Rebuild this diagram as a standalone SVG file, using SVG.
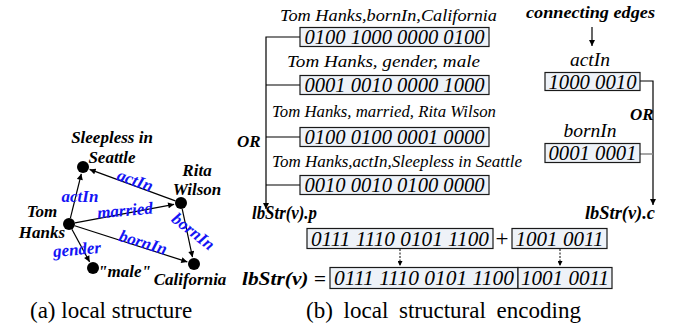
<svg xmlns="http://www.w3.org/2000/svg" width="674" height="327" viewBox="0 0 674 327">
<defs>
<marker id="ah" viewBox="0 0 10 10" refX="10" refY="5" markerWidth="7" markerHeight="6" markerUnits="userSpaceOnUse" orient="auto"><path d="M0,0 L10,5 L0,10 z" fill="#000"/></marker>
<marker id="ahs" viewBox="0 0 10 10" refX="10" refY="5" markerWidth="6" markerHeight="5" markerUnits="userSpaceOnUse" orient="auto"><path d="M0,0 L10,5 L0,10 z" fill="#000"/></marker>
</defs>
<style>
text{font-family:'Liberation Serif','Tinos','Times New Roman','DejaVu Serif',serif}
.t{font-style:italic;fill:#000}
.b{font-style:italic;font-weight:bold;fill:#000}
.bl{font-style:italic;font-weight:bold;fill:#1414f5;font-size:17px}
.cap{font-size:23px;fill:#000}
.box{fill:#eef2f8;stroke:#1a1a1a;stroke-width:1.2}
.bt{font-style:italic;font-size:21px;fill:#000}
.ln{stroke:#000;stroke-width:1.2;fill:none}
.dot{fill:#000}
</style>
<g id="connectors">
<line class="ln" x1="70.4" y1="218.2" x2="81.3" y2="173.8" marker-end="url(#ah)"/>
<line class="ln" x1="175.4" y1="200.9" x2="89.6" y2="169.4" marker-end="url(#ah)"/>
<line class="ln" x1="75" y1="222.9" x2="174.1" y2="204.3" marker-end="url(#ah)"/>
<line class="ln" x1="74.7" y1="225.8" x2="187.3" y2="261.9" marker-end="url(#ah)"/>
<line class="ln" x1="182.2" y1="208.9" x2="192.5" y2="257.2" marker-end="url(#ah)"/>
<line class="ln" x1="71.9" y1="229.3" x2="89.6" y2="261.9" marker-end="url(#ah)"/>
<polyline class="ln" points="300,37 266,37 266,209" marker-end="url(#ah)"/>
<line class="ln" x1="266" y1="85" x2="300" y2="85"/>
<line class="ln" x1="266" y1="137" x2="300" y2="137"/>
<line class="ln" x1="266" y1="185" x2="300" y2="185"/>
<line class="ln" x1="592" y1="27" x2="592" y2="46" marker-end="url(#ah)"/>
<polyline class="ln" points="640,81 653,81 653,205" marker-end="url(#ah)"/>
<line x1="640" y1="154" x2="653" y2="154" stroke="#888" stroke-width="1.5"/>
<line x1="400" y1="249" x2="400" y2="266" stroke="#000" stroke-width="1" stroke-dasharray="2,1.5" marker-end="url(#ahs)"/>
<line x1="560" y1="249" x2="560" y2="266" stroke="#000" stroke-width="1" stroke-dasharray="2,1.5" marker-end="url(#ahs)"/>
</g>
<g id="n-sleepless"><circle class="dot" cx="83" cy="167" r="6"/><text class="b" font-size="17" x="112" y="143" text-anchor="middle">Sleepless in</text><text class="b" font-size="17" x="112" y="163" text-anchor="middle">Seattle</text></g>
<g id="n-rita"><circle class="dot" cx="181" cy="203" r="6"/><text class="b" font-size="17" x="197" y="176" text-anchor="middle">Rita</text><text class="b" font-size="17" x="197" y="195" text-anchor="middle">Wilson</text></g>
<g id="n-tom"><circle class="dot" cx="69" cy="224" r="6"/><text class="b" font-size="17" x="42" y="217" text-anchor="middle">Tom</text><text class="b" font-size="17" x="42" y="238" text-anchor="middle">Hanks</text></g>
<g id="n-male"><circle class="dot" cx="93" cy="268" r="6"/><text class="b" font-size="17" x="98" y="277">"male"</text></g>
<g id="n-california"><circle class="dot" cx="194" cy="264" r="6"/><text class="b" font-size="17" x="190" y="285" text-anchor="middle">California</text></g>
<g id="edge-labels">
<text class="bl" x="80" y="202" text-anchor="middle">actIn</text>
<text class="bl" x="135" y="186" text-anchor="middle" transform="rotate(20 135 181)">actIn</text>
<text class="bl" x="125" y="216" text-anchor="middle" transform="rotate(-5 125 211)">married</text>
<text class="bl" x="143" y="248" text-anchor="middle" transform="rotate(17 143 243)">bornIn</text>
<text class="bl" x="193" y="237" text-anchor="middle" transform="rotate(38 193 232)">bornIn</text>
<text class="bl" x="77" y="255" text-anchor="middle" transform="rotate(-5 77 250)">gender</text>
</g>
<g id="p-encoding">
<text class="t" font-size="17" x="280" y="21" textLength="217" lengthAdjust="spacingAndGlyphs">Tom Hanks,bornIn,California</text>
<g id="box1"><rect class="box" x="300" y="27.5" width="189" height="19"/><text class="bt" x="394.5" y="44" text-anchor="middle" textLength="180" lengthAdjust="spacingAndGlyphs">0100 1000 0000 0100</text></g>
<text class="t" font-size="17" x="287" y="67" textLength="193" lengthAdjust="spacingAndGlyphs">Tom Hanks, gender, male</text>
<g id="box2"><rect class="box" x="300" y="75.5" width="189" height="19"/><text class="bt" x="394.5" y="92" text-anchor="middle" textLength="180" lengthAdjust="spacingAndGlyphs">0001 0010 0000 1000</text></g>
<text class="t" font-size="17" x="272" y="117" textLength="224" lengthAdjust="spacingAndGlyphs">Tom Hanks, married, Rita Wilson</text>
<g id="box3"><rect class="box" x="300" y="127.5" width="189" height="19"/><text class="bt" x="394.5" y="144" text-anchor="middle" textLength="180" lengthAdjust="spacingAndGlyphs">0100 0100 0001 0000</text></g>
<text class="t" font-size="17" x="272" y="167" textLength="250" lengthAdjust="spacingAndGlyphs">Tom Hanks,actIn,Sleepless in Seattle</text>
<g id="box4"><rect class="box" x="300" y="175.5" width="189" height="19"/><text class="bt" x="394.5" y="192" text-anchor="middle" textLength="180" lengthAdjust="spacingAndGlyphs">0010 0010 0100 0000</text></g>
<text class="b" font-size="17" x="237" y="147">OR</text>
<text class="b" font-size="18" x="252" y="219" textLength="65" lengthAdjust="spacingAndGlyphs">lbStr(v).p</text>
</g>
<g id="c-encoding">
<text class="b" font-size="17" x="526" y="18" textLength="129" lengthAdjust="spacingAndGlyphs">connecting edges</text>
<text class="t" font-size="19.5" x="590" y="66" text-anchor="middle">actIn</text>
<g id="box5"><rect class="box" x="545" y="72.5" width="95" height="18"/><text class="bt" x="592.5" y="88.5" text-anchor="middle" textLength="88" lengthAdjust="spacingAndGlyphs">1000 0010</text></g>
<text class="b" font-size="17" x="630" y="120">OR</text>
<text class="t" font-size="19.5" x="590" y="137" text-anchor="middle">bornIn</text>
<g id="box6"><rect class="box" x="545" y="143.5" width="95" height="19"/><text class="bt" x="592.5" y="160" text-anchor="middle" textLength="88" lengthAdjust="spacingAndGlyphs">0001 0001</text></g>
<text class="b" font-size="18" x="585" y="219" textLength="70" lengthAdjust="spacingAndGlyphs">lbStr(v).c</text>
</g>
<g id="result">
<g id="box7"><rect class="box" x="307" y="228.5" width="186" height="20"/><text class="bt" x="400" y="245.5" text-anchor="middle" textLength="178" lengthAdjust="spacingAndGlyphs">0111 1110 0101 1100</text></g>
<text class="cap" x="502" y="246" text-anchor="middle">+</text>
<g id="box8"><rect class="box" x="512" y="228.5" width="95" height="20"/><text class="bt" x="559.5" y="245.5" text-anchor="middle" textLength="88" lengthAdjust="spacingAndGlyphs">1001 0011</text></g>
<text class="b" font-size="19" x="242" y="285" textLength="84" lengthAdjust="spacingAndGlyphs">lbStr(v) =</text>
<g id="box9"><rect class="box" x="330" y="267.5" width="188" height="21"/><text class="bt" x="424" y="285" text-anchor="middle" textLength="180" lengthAdjust="spacingAndGlyphs">0111 1110 0101 1100</text></g>
<g id="box10"><rect class="box" x="518" y="267.5" width="94" height="21"/><text class="bt" x="565" y="285" text-anchor="middle" textLength="88" lengthAdjust="spacingAndGlyphs">1001 0011</text></g>
</g>
<g id="captions">
<text class="cap" x="30" y="318">(a) local structure</text>
<text class="cap" x="306" y="318" word-spacing="5">(b) local structural encoding</text>
</g>
</svg>
